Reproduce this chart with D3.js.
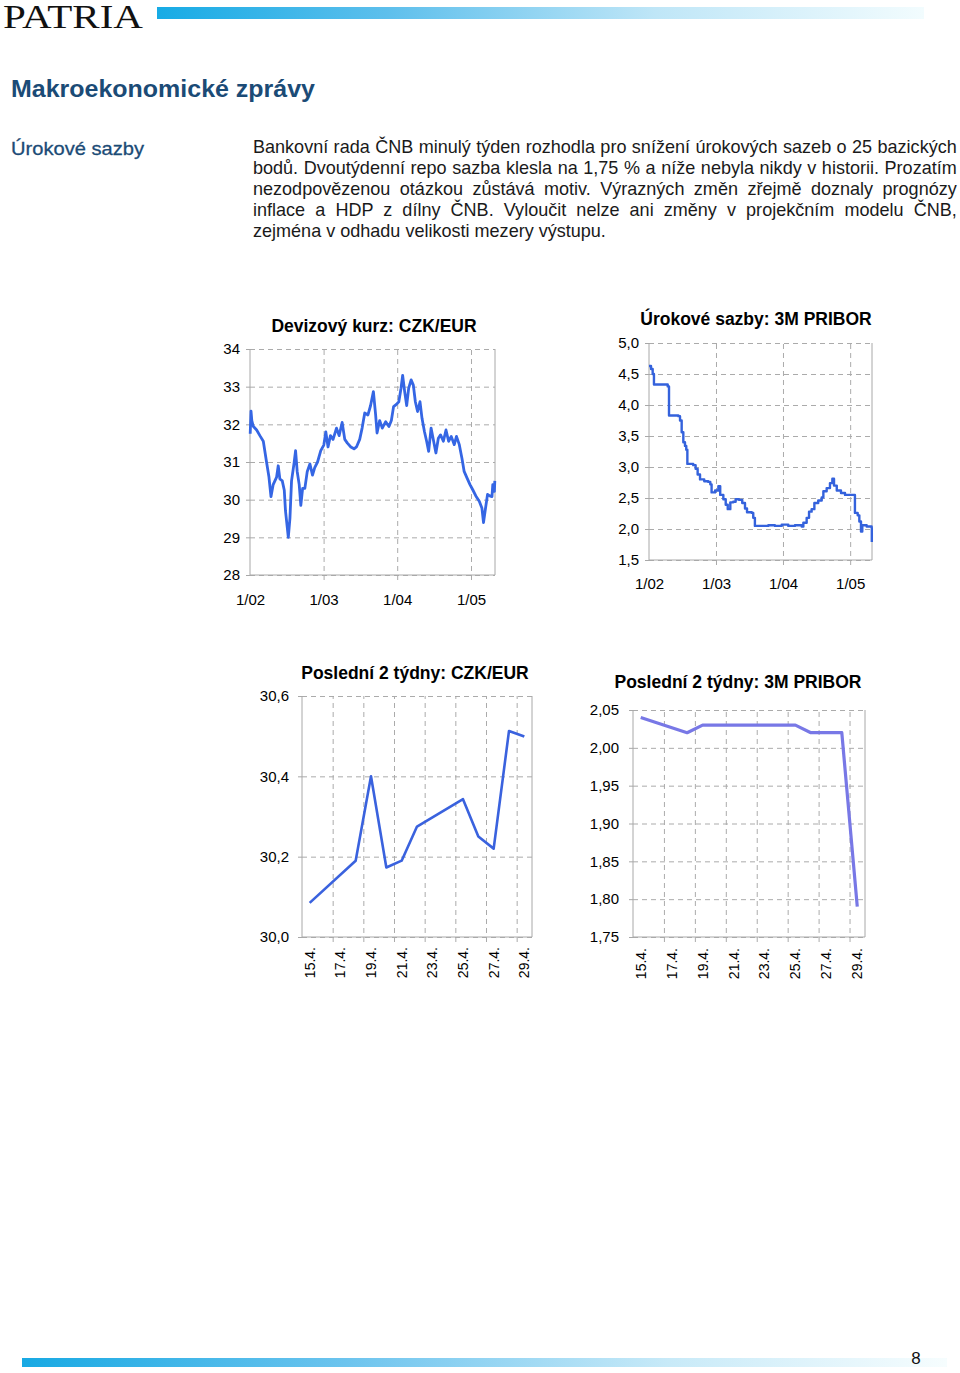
<!DOCTYPE html>
<html>
<head>
<meta charset="utf-8">
<script src="https://cdn.jsdelivr.net/npm/d3@7"></script>
<style>
  body { margin: 0; background: #fff; }
  svg { display: block; }
</style>
</head>
<body>
<div id="page"></div>
<script>
// ---- data ----
// CZK/EUR exchange rate, 2002 - 2005
var kurzDates = ["2002-01-02","2002-01-06","2002-01-10","2002-01-17","2002-02-03","2002-02-19","2002-03-08","2002-03-24",
  "2002-04-05","2002-04-15","2002-04-26","2002-05-13","2002-05-21","2002-05-29","2002-06-10","2002-06-20","2002-06-26",
  "2002-07-05","2002-07-10","2002-07-18","2002-07-26","2002-08-07","2002-08-15","2002-08-23","2002-09-02","2002-09-10",
  "2002-09-19","2002-09-30","2002-10-12","2002-10-25","2002-11-07","2002-11-18","2002-12-02","2002-12-18","2003-01-02",
  "2003-01-12","2003-01-23","2003-02-04","2003-02-17","2003-03-06","2003-03-19","2003-04-03","2003-04-16","2003-04-29",
  "2003-05-16","2003-06-01","2003-06-13","2003-06-29","2003-07-11","2003-07-24","2003-08-09","2003-08-22","2003-09-05",
  "2003-09-16","2003-09-23","2003-10-06","2003-10-19","2003-11-05","2003-11-21","2003-12-03","2003-12-14","2003-12-28",
  "2004-01-09","2004-01-20","2004-01-28","2004-02-07","2004-02-17","2004-02-27","2004-03-10","2004-03-21","2004-03-31",
  "2004-04-11","2004-04-23","2004-05-03","2004-05-15","2004-05-26","2004-06-05","2004-06-17","2004-06-28","2004-07-11",
  "2004-07-23","2004-08-03","2004-08-17","2004-08-30","2004-09-12","2004-09-25","2004-10-10","2004-10-21","2004-11-04",
  "2004-11-17","2004-11-28","2004-12-12","2004-12-27","2005-01-09","2005-01-25","2005-02-11","2005-02-24","2005-03-04",
  "2005-03-12","2005-03-24","2005-04-04","2005-04-15","2005-04-19","2005-04-22","2005-04-27","2005-04-29"];
var kurzValues = [31.75,32.35,32.1,31.95,31.85,31.7,31.55,31.0,
  30.6,30.08,30.4,30.6,30.9,30.55,30.5,30.25,29.7,
  29.25,29.0,29.5,30.5,30.95,31.3,30.75,30.4,29.85,
  30.3,30.3,30.75,30.95,30.65,30.85,31.0,31.3,31.45,
  31.8,31.4,31.7,31.6,31.9,31.7,32.05,31.6,31.5,
  31.4,31.35,31.4,31.6,31.9,32.3,32.25,32.5,32.87,
  32.25,31.77,32.1,31.9,32.07,31.94,32.1,32.47,32.53,
  32.6,32.96,33.3,32.87,32.5,32.96,33.18,33.04,32.6,
  32.34,32.6,32.16,31.81,31.55,31.28,31.9,31.6,31.24,
  31.63,31.72,31.55,31.85,31.55,31.68,31.46,31.68,31.46,
  31.1,30.75,30.58,30.4,30.27,30.1,29.96,29.78,29.39,
  29.7,30.14,30.1,30.08,30.4,30.27,30.22,30.5];

// 3M PRIBOR, 2002 - 2005
var priborDates = ["2002-01-01","2002-01-12","2002-01-21","2002-01-28","2002-03-11","2002-04-13","2002-04-20","2002-06-10",
  "2002-06-19","2002-06-28","2002-07-07","2002-07-16","2002-07-23","2002-07-29","2002-08-30","2002-09-12","2002-09-23",
  "2002-10-06","2002-10-29","2002-11-20","2002-12-01","2002-12-08","2002-12-27","2003-01-14","2003-01-24","2003-02-10",
  "2003-02-23","2003-03-06","2003-03-20","2003-04-05","2003-04-18","2003-05-06","2003-05-24","2003-06-08","2003-06-19",
  "2003-07-15","2003-07-23","2003-08-01","2003-09-07","2003-10-13","2003-11-18","2003-12-25","2004-01-30","2004-03-06",
  "2004-04-12","2004-04-21","2004-05-09","2004-05-22","2004-06-05","2004-06-20","2004-07-11","2004-07-30","2004-08-08",
  "2004-08-26","2004-09-13","2004-09-26","2004-10-05","2004-10-20","2004-11-12","2004-12-04","2005-01-18","2005-01-27",
  "2005-02-11","2005-02-20","2005-03-01","2005-03-08","2005-04-01","2005-04-15","2005-04-28","2005-04-29"];
var priborValues = [4.63,4.58,4.50,4.33,4.33,4.30,3.83,3.82,
  3.75,3.56,3.40,3.34,3.28,3.05,3.03,2.97,2.88,
  2.80,2.77,2.76,2.72,2.59,2.62,2.69,2.55,2.48,
  2.39,2.32,2.43,2.44,2.48,2.47,2.42,2.33,2.27,
  2.26,2.18,2.05,2.05,2.06,2.05,2.07,2.05,2.06,
  2.04,2.10,2.18,2.28,2.32,2.42,2.46,2.51,2.61,
  2.66,2.74,2.81,2.70,2.62,2.58,2.55,2.55,2.26,
  2.22,2.12,1.96,2.06,2.04,2.04,2.02,1.79];

var yearTicks = ["2002-01-01","2003-01-01","2004-01-01","2005-01-01"];

// last two weeks (April 2005, day of month)
var weekDays = [15,18,19,20,21,22,25,26,27,28,29];
var weekKurz = [30.085,30.19,30.40,30.173,30.19,30.275,30.343,30.25,30.22,30.513,30.499];
var weekPribor = [2.04,2.02,2.03,2.03,2.03,2.03,2.03,2.02,2.02,2.02,1.79];
var weekLabelDays = [15,17,19,21,23,25,27,29];
var weekLabels = ["15.4.","17.4.","19.4.","21.4.","23.4.","25.4.","27.4.","29.4."];
var weekGridDays = [16.5,18.5,20.5,22.5,24.5,26.5,28.5];

var paraLines = [
  "Bankovní rada ČNB minulý týden rozhodla pro snížení úrokových sazeb o 25 bazických",
  "bodů. Dvoutýdenní repo sazba klesla na 1,75 % a níže nebyla nikdy v historii. Prozatím",
  "nezodpovězenou otázkou zůstává motiv. Výrazných změn zřejmě doznaly prognózy",
  "inflace a HDP z dílny ČNB. Vyloučit nelze ani změny v projekčním modelu ČNB,",
  "zejména v odhadu velikosti mezery výstupu."
];

// ---- page ----
var W = 960, H = 1373;
var font = "'Liberation Sans', Arial, sans-serif";
var parseDate = d3.timeParse("%Y-%m-%d");
var cz = d3.formatLocale({decimal: ",", thousands: " ", grouping: [3], currency: ["", " Kč"]});

var svg = d3.select("#page").append("svg")
    .attr("width", W).attr("height", H)
    .attr("font-family", font);

var defs = svg.append("defs");
function gradient(id, stops) {
  var lg = defs.append("linearGradient").attr("id", id)
    .attr("x1", "0%").attr("x2", "100%").attr("y1", "0%").attr("y2", "0%");
  stops.forEach(function(s) {
    lg.append("stop").attr("offset", s[0]).attr("stop-color", s[1]);
  });
}
gradient("topbar", [["0%", "#17abe5"], ["30%", "#5dbfec"], ["65%", "#bfe6f7"], ["100%", "#f2fcfe"]]);
gradient("botbar", [["0%", "#18a9e3"], ["35%", "#6cc4ee"], ["70%", "#c8eaf8"], ["100%", "#f6fdfe"]]);

// header
svg.append("text")
    .attr("x", 3).attr("y", 28)
    .attr("font-family", "'Liberation Serif', 'Times New Roman', serif")
    .attr("font-size", 33)
    .attr("textLength", 140).attr("lengthAdjust", "spacingAndGlyphs")
    .attr("fill", "#111")
    .text("PATRIA");
svg.append("rect").attr("x", 157).attr("y", 7).attr("width", 767).attr("height", 12)
    .attr("fill", "url(#topbar)");

svg.append("text")
    .attr("x", 11).attr("y", 97)
    .attr("font-size", 24).attr("font-weight", "bold")
    .attr("textLength", 304).attr("lengthAdjust", "spacingAndGlyphs")
    .attr("fill", "#1b4b76")
    .text("Makroekonomické zprávy");

svg.append("text")
    .attr("x", 11).attr("y", 155)
    .attr("font-size", 19)
    .attr("textLength", 133).attr("lengthAdjust", "spacingAndGlyphs")
    .attr("fill", "#1b4b76")
    .attr("stroke", "#1b4b76").attr("stroke-width", 0.3)
    .text("Úrokové sazby");

// justified paragraph
var paraLeft = 253, paraWidth = 704, lastWidth = 353;
var para = svg.append("g").attr("font-size", 18.5).attr("fill", "#1a1a1a");
var lines = para.selectAll("text").data(paraLines).join("text")
    .attr("x", 0).attr("y", 0)
    .text(function(d) { return d; });
var natural = lines.nodes().map(function(n) { return n.getComputedTextLength(); });
var sx = lastWidth / natural[paraLines.length - 1];
lines
    .attr("transform", function(d, i) {
      return "translate(" + paraLeft + "," + (153.3 + i * 20.8) + ") scale(" + sx + ",1)";
    })
    .attr("word-spacing", function(d, i) {
      if (i === paraLines.length - 1) return 0;
      var gaps = d.split(" ").length - 1;
      return (paraWidth / sx - natural[i]) / gaps;
    });

// ---- chart panels ----
function panel(o) {
  var g = svg.append("g");
  var x = o.x, y = o.y;
  var w = o.right - o.left, h = o.bottom - o.top;

  // horizontal dashed grid
  g.append("g")
      .attr("transform", "translate(" + o.left + ",0)")
      .call(d3.axisLeft(y).tickValues(o.yTicks).tickSize(-w).tickFormat(""))
      .call(function(a) {
        a.select(".domain").remove();
        a.selectAll("line").attr("stroke", "#ababab").attr("stroke-dasharray", "5,4");
      });

  // vertical dashed grid
  g.append("g")
      .attr("transform", "translate(0," + o.bottom + ")")
      .call(d3.axisBottom(x).tickValues(o.xGrid).tickSize(-h).tickFormat(""))
      .call(function(a) {
        a.select(".domain").remove();
        a.selectAll("line").attr("stroke", "#ababab").attr("stroke-dasharray", "5,4")
          .attr("y1", 5).attr("y2", -h);
      });

  // frame
  g.append("path")
      .attr("d", "M" + o.left + "," + o.top + "V" + o.bottom + "H" + o.right + "V" + o.top)
      .attr("fill", "none").attr("stroke", "#a8a8a8").attr("stroke-width", 1);

  // y axis labels with short ticks
  g.append("g")
      .attr("transform", "translate(" + o.left + ",0)")
      .call(d3.axisLeft(y).tickValues(o.yTicks).tickSize(4).tickPadding(o.yPad).tickFormat(o.yFormat))
      .call(function(a) {
        a.select(".domain").remove();
        a.selectAll("line").attr("stroke", "#a8a8a8");
        a.selectAll("text").attr("font-family", font).attr("font-size", 15).attr("fill", "#000");
      });

  // x axis labels
  if (o.rotate) {
    g.append("g")
        .selectAll("text").data(o.xLabelValues).join("text")
        .attr("transform", function(d) { return "translate(" + (x(d) + 5) + "," + o.labelY + ") rotate(-90)"; })
        .attr("text-anchor", "end")
        .attr("font-size", 14)
        .attr("fill", "#000")
        .text(function(d, i) { return o.xLabels[i]; });
  } else {
    g.append("g")
        .attr("transform", "translate(0," + o.bottom + ")")
        .call(d3.axisBottom(x).tickValues(o.xLabelValues).tickSize(0).tickPadding(o.xPad).tickFormat(o.xFormat))
        .call(function(a) {
          a.select(".domain").remove();
          a.selectAll("text").attr("font-family", font).attr("font-size", 15).attr("fill", "#000");
        });
  }

  // title
  g.append("text")
      .attr("x", o.titleX).attr("y", o.titleY)
      .attr("text-anchor", "middle")
      .attr("font-size", 17.5).attr("font-weight", "bold")
      .attr("fill", "#000")
      .text(o.title);

  // data line
  g.append("path")
      .datum(o.data)
      .attr("fill", "none")
      .attr("stroke", o.color)
      .attr("stroke-width", o.width)
      .attr("stroke-linejoin", "round")
      .attr("d", d3.line()
        .curve(o.curve || d3.curveLinear)
        .x(function(d) { return x(d[0]); })
        .y(function(d) { return y(d[1]); }));
}

var years = yearTicks.map(parseDate);
var dateDomain = [parseDate("2002-01-01"), parseDate("2005-04-30")];

// CZK/EUR long
var x1 = d3.scaleTime().domain(dateDomain).range([250, 495]);
var y1 = d3.scaleLinear().domain([28, 34]).range([575, 349]);
panel({
  x: x1, y: y1, left: 250, right: 495, top: 349, bottom: 575,
  yTicks: d3.range(28, 35, 1), yFormat: cz.format("d"), yPad: 6,
  xGrid: years.slice(1), xLabelValues: years, xFormat: d3.timeFormat("1/%y"), xPad: 19,
  title: "Devizový kurz: CZK/EUR", titleX: 374, titleY: 332,
  data: kurzDates.map(function(d, i) { return [parseDate(d), kurzValues[i]]; }),
  color: "#3566e4", width: 2.8
});

// PRIBOR long
var x2 = d3.scaleTime().domain(dateDomain).range([649, 872]);
var y2 = d3.scaleLinear().domain([1.5, 5]).range([560, 343]);
panel({
  x: x2, y: y2, left: 649, right: 872, top: 343, bottom: 560,
  yTicks: d3.range(0, 8).map(function(i) { return 1.5 + i * 0.5; }), yFormat: cz.format(".1f"), yPad: 6,
  xGrid: years.slice(1), xLabelValues: years, xFormat: d3.timeFormat("1/%y"), xPad: 18,
  title: "Úrokové sazby: 3M PRIBOR", titleX: 756, titleY: 325,
  data: priborDates.map(function(d, i) { return [parseDate(d), priborValues[i]]; }),
  color: "#3462dc", width: 2.4, curve: d3.curveStepAfter
});

// CZK/EUR two weeks
var x3 = d3.scaleLinear().domain([14.5, 29.5]).range([302, 532]);
var y3 = d3.scaleLinear().domain([30, 30.6]).range([937, 696]);
panel({
  x: x3, y: y3, left: 302, right: 532, top: 696, bottom: 937,
  yTicks: [30, 30.2, 30.4, 30.6], yFormat: cz.format(".1f"), yPad: 9,
  xGrid: weekGridDays, xLabelValues: weekLabelDays, xLabels: weekLabels, rotate: true, labelY: 947,
  title: "Poslední 2 týdny: CZK/EUR", titleX: 415, titleY: 679,
  data: weekDays.map(function(d, i) { return [d, weekKurz[i]]; }),
  color: "#3a62de", width: 2.6
});

// PRIBOR two weeks
var x4 = d3.scaleLinear().domain([14.5, 29.5]).range([633, 865]);
var y4 = d3.scaleLinear().domain([1.75, 2.05]).range([937, 710]);
panel({
  x: x4, y: y4, left: 633, right: 865, top: 710, bottom: 937,
  yTicks: [1.75, 1.8, 1.85, 1.9, 1.95, 2.0, 2.05], yFormat: cz.format(".2f"), yPad: 10,
  xGrid: weekGridDays, xLabelValues: weekLabelDays, xLabels: weekLabels, rotate: true, labelY: 948,
  title: "Poslední 2 týdny: 3M PRIBOR", titleX: 738, titleY: 688,
  data: weekDays.map(function(d, i) { return [d, weekPribor[i]]; }),
  color: "#7878e6", width: 3.2
});

// footer
svg.append("rect").attr("x", 22).attr("y", 1358).attr("width", 925).attr("height", 9)
    .attr("fill", "url(#botbar)");
svg.append("text")
    .attr("x", 916).attr("y", 1364)
    .attr("text-anchor", "middle")
    .attr("font-size", 17).attr("fill", "#111")
    .text("8");
</script>
</body>
</html>
